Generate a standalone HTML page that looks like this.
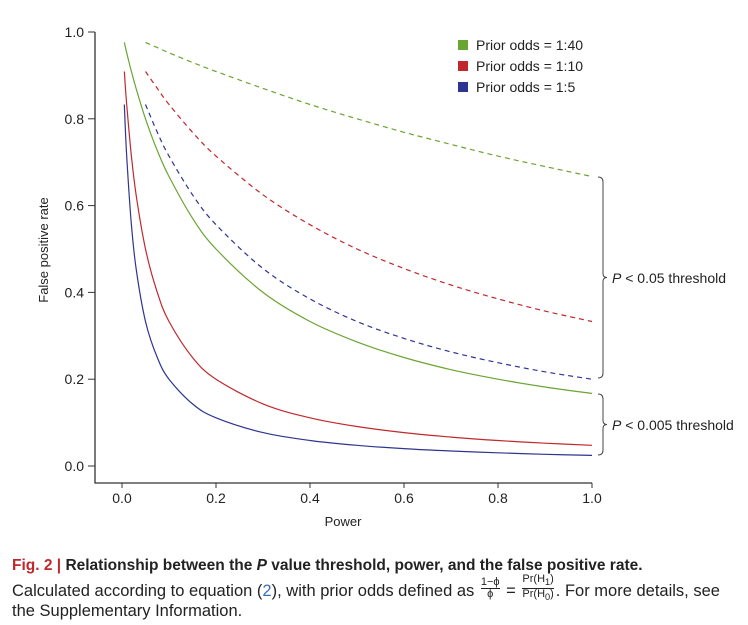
<!DOCTYPE html>
<html><head><meta charset="utf-8"><style>
body{margin:0;background:#fff;width:748px;height:625px;overflow:hidden;font-family:"Liberation Sans",sans-serif;}
svg{position:absolute;left:0;top:0;font-family:"Liberation Sans",sans-serif}
.cap{position:absolute;left:12px;font-size:15.5px;color:#222;white-space:nowrap;line-height:18px}
.fr{display:inline-block;vertical-align:middle;font-size:11px;text-align:center;line-height:11px;margin-top:-6px;padding:0 2px}
</style></head><body>
<svg width="748" height="540" id="c"></svg>
<div class="cap" style="top:557px"><b style="color:#c0282d">Fig. 2 |</b> <b>Relationship between the <i>P</i> value threshold, power, and the false positive rate.</b></div>
<div class="cap" style="top:580px;height:20px;font-size:16.5px">Calculated according to equation (<span style="color:#3a6fb7">2</span>), with prior odds defined as <span class="fr"><span style="display:block;border-bottom:1px solid #222">1−ϕ</span><span>ϕ</span></span> = <span class="fr"><span style="display:block;border-bottom:1px solid #222">Pr(H<sub>1</sub>)</span><span>Pr(H<sub>0</sub>)</span></span>. For more details, see</div>
<div class="cap" style="top:602px;font-size:16.5px">the Supplementary Information.</div>
<script>
const solidPower=[0.005,0.01,0.02,0.03,0.05,0.075,0.1,0.15,0.2,0.3,0.4,0.5,0.6,0.7,0.8,0.9,1.0];
const solid40=[0.976,0.952,0.909,0.870,0.8,0.727,0.667,0.571,0.5,0.4,0.333,0.286,0.25,0.222,0.2,0.182,0.167];
const solid10=[0.909,0.833,0.714,0.625,0.5,0.4,0.333,0.25,0.2,0.143,0.111,0.0909,0.0769,0.0667,0.0588,0.0526,0.0476];
const solid5=[0.833,0.714,0.556,0.455,0.333,0.25,0.2,0.143,0.111,0.0769,0.0588,0.0476,0.04,0.0345,0.0303,0.027,0.0244];
const dashPower=[0.05,0.075,0.1,0.15,0.2,0.3,0.4,0.5,0.6,0.7,0.8,0.9,1.0];
const dash40=[0.976,0.964,0.952,0.930,0.909,0.870,0.833,0.8,0.769,0.741,0.714,0.690,0.667];
const dash10=[0.909,0.870,0.833,0.769,0.714,0.625,0.556,0.5,0.455,0.417,0.385,0.357,0.333];
const dash5=[0.833,0.769,0.714,0.625,0.556,0.455,0.385,0.333,0.294,0.263,0.238,0.217,0.2];
const xTicks=[0,0.2,0.4,0.6,0.8,1.0];
const yTicks=[0,0.2,0.4,0.6,0.8,1.0];
const legendLabels=["Prior odds = 1:40","Prior odds = 1:10","Prior odds = 1:5"];
const colors=["#6aa532","#c0282d","#2e3590"];
const X=v=>122+v*470, Y=v=>466-v*434;
const svg=document.getElementById('c');const NS='http://www.w3.org/2000/svg';
function mk(t,a,p){const e=document.createElementNS(NS,t);for(const k in a)e.setAttribute(k,a[k]);(p||svg).appendChild(e);return e;}
let e;
e=mk('path',{d:'M95 32V483H592',fill:'none',stroke:'#333','stroke-width':1.3});


yTicks.forEach(v=>{mk('line',{x1:88,x2:95,y1:Y(v),y2:Y(v),stroke:'#333'});
e=mk('text',{x:84,y:Y(v)+5,'text-anchor':'end','font-size':14,fill:'#222'});e.textContent=v.toFixed(1);

});
xTicks.forEach(v=>{mk('line',{x1:X(v),x2:X(v),y1:483,y2:488,stroke:'#333'});
e=mk('text',{x:X(v),y:503,'text-anchor':'middle','font-size':14,fill:'#222'});e.textContent=v.toFixed(1);

});
e=mk('text',{x:343,y:526,'text-anchor':'middle','font-size':13,fill:'#222'});e.textContent='Power';


e=mk('text',{x:48,y:250,'text-anchor':'middle','font-size':13,fill:'#222',transform:'rotate(-90 48 250)'});e.textContent='False positive rate';


function line(px,py,col,dash,name){
const P=px.map((p,i)=>[X(p),Y(py[i])]);
let d='M'+P[0][0]+' '+P[0][1];
for(let i=0;i<P.length-1;i++){const p0=P[Math.max(0,i-1)],p1=P[i],p2=P[i+1],p3=P[Math.min(P.length-1,i+2)];
const c1=[p1[0]+(p2[0]-p0[0])/6,p1[1]+(p2[1]-p0[1])/6],c2=[p2[0]-(p3[0]-p1[0])/6,p2[1]-(p3[1]-p1[1])/6];
d+=`C${c1[0].toFixed(1)} ${c1[1].toFixed(1)} ${c2[0].toFixed(1)} ${c2[1].toFixed(1)} ${p2[0].toFixed(1)} ${p2[1].toFixed(1)}`;}
const a={d:d,fill:'none',stroke:col,'stroke-width':1.2};if(dash)a['stroke-dasharray']='5 4';
const el=mk('path',a);

}
line(solidPower,solid40,colors[0],0,'line-p005-odds-1-40');
line(solidPower,solid10,colors[1],0,'line-p005-odds-1-10');
line(solidPower,solid5,colors[2],0,'line-p005-odds-1-5');
line(dashPower,dash40,colors[0],1,'line-p05-odds-1-40');
line(dashPower,dash10,colors[1],1,'line-p05-odds-1-10');
line(dashPower,dash5,colors[2],1,'line-p05-odds-1-5');
legendLabels.forEach((l,i)=>{const y=45+i*21;
e=mk('rect',{x:458,y:y-5,width:10,height:10,fill:colors[i]});


e=mk('text',{x:476,y:y+5,'font-size':14,fill:'#222'});e.textContent=l;

});
function brace(y1,y2,name){const m=(y1+y2)/2;
e=mk('path',{d:`M598 ${y1}Q603 ${y1} 603 ${y1+5}V${m-4}Q603 ${m} 607 ${m}Q603 ${m} 603 ${m+4}V${y2-5}Q603 ${y2} 598 ${y2}`,fill:'none',stroke:'#444','stroke-width':1});

}
brace(177,378,'brace-p05');brace(394,455,'brace-p005');
e=mk('text',{x:612,y:283,'font-size':14,fill:'#222'});e.innerHTML='<tspan font-style="italic">P</tspan> &lt; 0.05 threshold';


e=mk('text',{x:612,y:430,'font-size':14,fill:'#222'});e.innerHTML='<tspan font-style="italic">P</tspan> &lt; 0.005 threshold';


</script>
</body></html>
